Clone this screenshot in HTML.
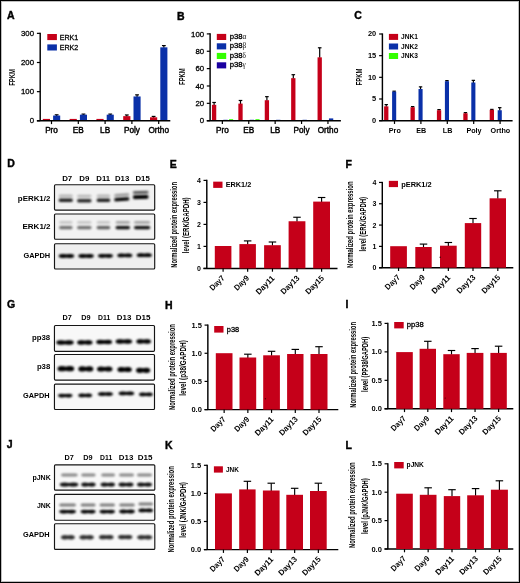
<!DOCTYPE html>
<html><head><meta charset="utf-8"><style>
html,body{margin:0;padding:0;background:#fff;}
#fig{position:relative;will-change:transform;width:520px;height:583px;overflow:hidden;background:#fff;}
svg{position:absolute;left:0;top:0;}
text{font-family:"Liberation Sans", sans-serif;}
</style></head><body><div id="fig">
<svg width="520" height="583" viewBox="0 0 520 583" font-family='"Liberation Sans", sans-serif'>
<defs><filter id="b3" x="-20%" y="-100%" width="140%" height="300%"><feGaussianBlur stdDeviation="0.3"/></filter><filter id="b4" x="-20%" y="-100%" width="140%" height="300%"><feGaussianBlur stdDeviation="0.4"/></filter><filter id="b5" x="-20%" y="-100%" width="140%" height="300%"><feGaussianBlur stdDeviation="0.5"/></filter><filter id="b6" x="-20%" y="-100%" width="140%" height="300%"><feGaussianBlur stdDeviation="0.6"/></filter><filter id="b7" x="-20%" y="-100%" width="140%" height="300%"><feGaussianBlur stdDeviation="0.7"/></filter><filter id="b8" x="-20%" y="-100%" width="140%" height="300%"><feGaussianBlur stdDeviation="0.8"/></filter><filter id="b9" x="-20%" y="-100%" width="140%" height="300%"><feGaussianBlur stdDeviation="0.9"/></filter><filter id="b10" x="-20%" y="-100%" width="140%" height="300%"><feGaussianBlur stdDeviation="1.0"/></filter><filter id="b12" x="-20%" y="-100%" width="140%" height="300%"><feGaussianBlur stdDeviation="1.2"/></filter></defs>
<rect x="0.5" y="0.5" width="519" height="582" fill="none" stroke="#000" stroke-width="1"/>
<rect x="1.5" y="1.5" width="517" height="580" fill="none" stroke="#000" stroke-width="1" opacity="0.25"/>
<text x="7.10" y="19.12" font-size="10.5" font-weight="bold" stroke="#000" stroke-width="0.4">A</text>
<text x="177.10" y="20.22" font-size="10.5" font-weight="bold" stroke="#000" stroke-width="0.4">B</text>
<text x="354.30" y="19.42" font-size="10.5" font-weight="bold" stroke="#000" stroke-width="0.4">C</text>
<text x="7.30" y="166.92" font-size="10.5" font-weight="bold" stroke="#000" stroke-width="0.4">D</text>
<text x="169.70" y="167.52" font-size="10.5" font-weight="bold" stroke="#000" stroke-width="0.4">E</text>
<text x="345.50" y="167.52" font-size="10.5" font-weight="bold" stroke="#000" stroke-width="0.4">F</text>
<text x="7.00" y="307.92" font-size="10.5" font-weight="bold" stroke="#000" stroke-width="0.4">G</text>
<text x="165.10" y="308.72" font-size="10.5" font-weight="bold" stroke="#000" stroke-width="0.4">H</text>
<text x="345.50" y="308.32" font-size="10.5" font-weight="bold" stroke="#000" stroke-width="0.4">I</text>
<text x="6.80" y="448.12" font-size="10.5" font-weight="bold" stroke="#000" stroke-width="0.4">J</text>
<text x="165.10" y="449.02" font-size="10.5" font-weight="bold" stroke="#000" stroke-width="0.4">K</text>
<text x="345.50" y="449.02" font-size="10.5" font-weight="bold" stroke="#000" stroke-width="0.4">L</text>
<rect x="42.80" y="118.91" width="7.20" height="1.89" fill="#c50019"/>
<line x1="56.65" y1="116.05" x2="56.65" y2="114.82" stroke="#000" stroke-width="1.2"/>
<line x1="54.75" y1="114.82" x2="58.55" y2="114.82" stroke="#000" stroke-width="1.2"/>
<rect x="53.10" y="115.55" width="7.10" height="5.25" fill="#0a30a8"/>
<rect x="69.60" y="118.91" width="7.20" height="1.89" fill="#c50019"/>
<line x1="83.45" y1="115.18" x2="83.45" y2="114.10" stroke="#000" stroke-width="1.2"/>
<line x1="81.55" y1="114.10" x2="85.35" y2="114.10" stroke="#000" stroke-width="1.2"/>
<rect x="79.90" y="114.68" width="7.10" height="6.12" fill="#0a30a8"/>
<rect x="96.40" y="118.91" width="7.20" height="1.89" fill="#c50019"/>
<line x1="110.25" y1="115.18" x2="110.25" y2="114.10" stroke="#000" stroke-width="1.2"/>
<line x1="108.35" y1="114.10" x2="112.15" y2="114.10" stroke="#000" stroke-width="1.2"/>
<rect x="106.70" y="114.68" width="7.10" height="6.12" fill="#0a30a8"/>
<line x1="126.80" y1="116.64" x2="126.80" y2="114.97" stroke="#000" stroke-width="1.2"/>
<line x1="124.90" y1="114.97" x2="128.70" y2="114.97" stroke="#000" stroke-width="1.2"/>
<rect x="123.20" y="116.14" width="7.20" height="4.66" fill="#c50019"/>
<line x1="137.05" y1="96.96" x2="137.05" y2="94.86" stroke="#000" stroke-width="1.2"/>
<line x1="135.15" y1="94.86" x2="138.95" y2="94.86" stroke="#000" stroke-width="1.2"/>
<rect x="133.50" y="96.46" width="7.10" height="24.34" fill="#0a30a8"/>
<line x1="153.60" y1="117.80" x2="153.60" y2="116.43" stroke="#000" stroke-width="1.2"/>
<line x1="151.70" y1="116.43" x2="155.50" y2="116.43" stroke="#000" stroke-width="1.2"/>
<rect x="150.00" y="117.30" width="7.20" height="3.50" fill="#c50019"/>
<line x1="163.85" y1="47.84" x2="163.85" y2="45.59" stroke="#000" stroke-width="1.2"/>
<line x1="161.95" y1="45.59" x2="165.75" y2="45.59" stroke="#000" stroke-width="1.2"/>
<rect x="160.30" y="47.34" width="7.10" height="73.46" fill="#0a30a8"/>
<line x1="40.20" y1="32.75" x2="40.20" y2="120.80" stroke="#000" stroke-width="1.45"/>
<line x1="36.90" y1="120.80" x2="170.30" y2="120.80" stroke="#000" stroke-width="1.45"/>
<line x1="36.90" y1="120.80" x2="40.20" y2="120.80" stroke="#000" stroke-width="1.2"/>
<text x="34.00" y="123.40" font-size="7.8" text-anchor="end" stroke="#000" stroke-width="0.28">0</text>
<line x1="36.90" y1="91.65" x2="40.20" y2="91.65" stroke="#000" stroke-width="1.2"/>
<text x="34.00" y="94.25" font-size="7.8" text-anchor="end" stroke="#000" stroke-width="0.28">100</text>
<line x1="36.90" y1="62.50" x2="40.20" y2="62.50" stroke="#000" stroke-width="1.2"/>
<text x="34.00" y="65.10" font-size="7.8" text-anchor="end" stroke="#000" stroke-width="0.28">200</text>
<line x1="36.90" y1="33.35" x2="40.20" y2="33.35" stroke="#000" stroke-width="1.2"/>
<text x="34.00" y="35.95" font-size="7.8" text-anchor="end" stroke="#000" stroke-width="0.28">300</text>
<line x1="51.50" y1="120.80" x2="51.50" y2="124.10" stroke="#000" stroke-width="1.2"/>
<text x="51.50" y="132.60" font-size="8.2" text-anchor="middle" stroke="#000" stroke-width="0.42">Pro</text>
<line x1="78.30" y1="120.80" x2="78.30" y2="124.10" stroke="#000" stroke-width="1.2"/>
<text x="78.30" y="132.60" font-size="8.2" text-anchor="middle" stroke="#000" stroke-width="0.42">EB</text>
<line x1="105.10" y1="120.80" x2="105.10" y2="124.10" stroke="#000" stroke-width="1.2"/>
<text x="105.10" y="132.60" font-size="8.2" text-anchor="middle" stroke="#000" stroke-width="0.42">LB</text>
<line x1="131.90" y1="120.80" x2="131.90" y2="124.10" stroke="#000" stroke-width="1.2"/>
<text x="131.90" y="132.60" font-size="8.2" text-anchor="middle" stroke="#000" stroke-width="0.42">Poly</text>
<line x1="158.70" y1="120.80" x2="158.70" y2="124.10" stroke="#000" stroke-width="1.2"/>
<text x="158.70" y="132.60" font-size="8.2" text-anchor="middle" stroke="#000" stroke-width="0.42">Ortho</text>
<text transform="translate(14.60,77.40) rotate(-90)" font-size="9.4" font-weight="bold" text-anchor="middle" textLength="16.80" lengthAdjust="spacingAndGlyphs">FPKM</text>
<rect x="47.30" y="34.00" width="9.60" height="6.10" fill="#c50019"/>
<text x="59.70" y="39.85" font-size="7.1" stroke="#000" stroke-width="0.28">ERK1</text>
<rect x="47.30" y="44.40" width="9.60" height="6.10" fill="#0a30a8"/>
<text x="59.70" y="49.60" font-size="7.1" stroke="#000" stroke-width="0.28">ERK2</text>
<line x1="214.10" y1="105.32" x2="214.10" y2="102.47" stroke="#000" stroke-width="1.2"/>
<line x1="212.30" y1="102.47" x2="215.90" y2="102.47" stroke="#000" stroke-width="1.2"/>
<rect x="211.95" y="104.82" width="4.30" height="15.88" fill="#c50019"/>
<line x1="240.50" y1="104.10" x2="240.50" y2="100.48" stroke="#000" stroke-width="1.2"/>
<line x1="238.70" y1="100.48" x2="242.30" y2="100.48" stroke="#000" stroke-width="1.2"/>
<rect x="238.35" y="103.60" width="4.30" height="17.10" fill="#c50019"/>
<line x1="266.90" y1="100.72" x2="266.90" y2="96.66" stroke="#000" stroke-width="1.2"/>
<line x1="265.10" y1="96.66" x2="268.70" y2="96.66" stroke="#000" stroke-width="1.2"/>
<rect x="264.75" y="100.22" width="4.30" height="20.48" fill="#c50019"/>
<line x1="293.30" y1="78.67" x2="293.30" y2="74.70" stroke="#000" stroke-width="1.2"/>
<line x1="291.50" y1="74.70" x2="295.10" y2="74.70" stroke="#000" stroke-width="1.2"/>
<rect x="291.15" y="78.17" width="4.30" height="42.53" fill="#c50019"/>
<line x1="319.70" y1="57.84" x2="319.70" y2="47.79" stroke="#000" stroke-width="1.2"/>
<line x1="317.90" y1="47.79" x2="321.50" y2="47.79" stroke="#000" stroke-width="1.2"/>
<rect x="317.55" y="57.34" width="4.30" height="63.36" fill="#c50019"/>
<rect x="223.35" y="119.79" width="4.30" height="0.91" fill="#0a30a8"/>
<rect x="229.05" y="119.20" width="4.10" height="1.50" fill="#33ff00"/>
<rect x="249.75" y="119.79" width="4.30" height="0.91" fill="#0a30a8"/>
<rect x="255.45" y="119.20" width="4.10" height="1.50" fill="#33ff00"/>
<rect x="276.15" y="119.79" width="4.30" height="0.91" fill="#0a30a8"/>
<rect x="302.55" y="119.79" width="4.30" height="0.91" fill="#0a30a8"/>
<rect x="328.95" y="118.40" width="4.30" height="2.30" fill="#0a30a8"/>
<line x1="210.10" y1="33.30" x2="210.10" y2="120.70" stroke="#000" stroke-width="1.45"/>
<line x1="206.80" y1="120.70" x2="340.90" y2="120.70" stroke="#000" stroke-width="1.45"/>
<line x1="206.80" y1="120.70" x2="210.10" y2="120.70" stroke="#000" stroke-width="1.2"/>
<text x="204.10" y="123.30" font-size="7.8" text-anchor="end" stroke="#000" stroke-width="0.28">0</text>
<line x1="206.80" y1="103.34" x2="210.10" y2="103.34" stroke="#000" stroke-width="1.2"/>
<text x="204.10" y="105.94" font-size="7.8" text-anchor="end" stroke="#000" stroke-width="0.28">20</text>
<line x1="206.80" y1="85.98" x2="210.10" y2="85.98" stroke="#000" stroke-width="1.2"/>
<text x="204.10" y="88.58" font-size="7.8" text-anchor="end" stroke="#000" stroke-width="0.28">40</text>
<line x1="206.80" y1="68.62" x2="210.10" y2="68.62" stroke="#000" stroke-width="1.2"/>
<text x="204.10" y="71.22" font-size="7.8" text-anchor="end" stroke="#000" stroke-width="0.28">60</text>
<line x1="206.80" y1="51.26" x2="210.10" y2="51.26" stroke="#000" stroke-width="1.2"/>
<text x="204.10" y="53.86" font-size="7.8" text-anchor="end" stroke="#000" stroke-width="0.28">80</text>
<line x1="206.80" y1="33.90" x2="210.10" y2="33.90" stroke="#000" stroke-width="1.2"/>
<text x="204.10" y="36.50" font-size="7.8" text-anchor="end" stroke="#000" stroke-width="0.28">100</text>
<line x1="222.35" y1="120.70" x2="222.35" y2="124.00" stroke="#000" stroke-width="1.2"/>
<text x="222.35" y="132.60" font-size="8.2" text-anchor="middle" stroke="#000" stroke-width="0.42">Pro</text>
<line x1="248.75" y1="120.70" x2="248.75" y2="124.00" stroke="#000" stroke-width="1.2"/>
<text x="248.75" y="132.60" font-size="8.2" text-anchor="middle" stroke="#000" stroke-width="0.42">EB</text>
<line x1="275.15" y1="120.70" x2="275.15" y2="124.00" stroke="#000" stroke-width="1.2"/>
<text x="275.15" y="132.60" font-size="8.2" text-anchor="middle" stroke="#000" stroke-width="0.42">LB</text>
<line x1="301.55" y1="120.70" x2="301.55" y2="124.00" stroke="#000" stroke-width="1.2"/>
<text x="301.55" y="132.60" font-size="8.2" text-anchor="middle" stroke="#000" stroke-width="0.42">Poly</text>
<line x1="327.95" y1="120.70" x2="327.95" y2="124.00" stroke="#000" stroke-width="1.2"/>
<text x="327.95" y="132.60" font-size="8.2" text-anchor="middle" stroke="#000" stroke-width="0.42">Ortho</text>
<text transform="translate(185.40,76.60) rotate(-90)" font-size="9.4" font-weight="bold" text-anchor="middle" textLength="16.80" lengthAdjust="spacingAndGlyphs">FPKM</text>
<rect x="216.80" y="33.90" width="9.40" height="6.10" fill="#c50019"/>
<text x="229.7" y="38.50" font-size="6.6" stroke="#000" stroke-width="0.28" textLength="12.9" lengthAdjust="spacingAndGlyphs">p38</text>
<text x="242.5" y="38.50" font-size="7.3" style="font-family:'Liberation Serif',serif" fill="#111">&#945;</text>
<rect x="216.80" y="43.30" width="9.40" height="6.10" fill="#0a30a8"/>
<text x="229.7" y="47.90" font-size="6.6" stroke="#000" stroke-width="0.28" textLength="12.9" lengthAdjust="spacingAndGlyphs">p38</text>
<text x="242.5" y="47.90" font-size="7.3" style="font-family:'Liberation Serif',serif" fill="#111">&#946;</text>
<rect x="216.80" y="52.90" width="9.40" height="6.10" fill="#33ff00"/>
<text x="229.7" y="57.50" font-size="6.6" stroke="#000" stroke-width="0.28" textLength="12.9" lengthAdjust="spacingAndGlyphs">p38</text>
<text x="242.5" y="57.50" font-size="7.3" style="font-family:'Liberation Serif',serif" fill="#111">&#948;</text>
<rect x="216.80" y="62.30" width="9.40" height="6.10" fill="#1a00a0"/>
<text x="229.7" y="66.90" font-size="6.6" stroke="#000" stroke-width="0.28" textLength="12.9" lengthAdjust="spacingAndGlyphs">p38</text>
<text x="242.5" y="66.90" font-size="7.3" style="font-family:'Liberation Serif',serif" fill="#111">&#947;</text>
<line x1="386.25" y1="106.85" x2="386.25" y2="104.62" stroke="#000" stroke-width="1.2"/>
<line x1="384.55" y1="104.62" x2="387.95" y2="104.62" stroke="#000" stroke-width="1.2"/>
<rect x="384.10" y="106.35" width="4.30" height="14.30" fill="#c50019"/>
<line x1="394.15" y1="92.12" x2="394.15" y2="91.19" stroke="#000" stroke-width="1.2"/>
<line x1="392.45" y1="91.19" x2="395.85" y2="91.19" stroke="#000" stroke-width="1.2"/>
<rect x="392.10" y="91.62" width="4.10" height="29.03" fill="#0a30a8"/>
<line x1="412.65" y1="107.72" x2="412.65" y2="106.57" stroke="#000" stroke-width="1.2"/>
<line x1="410.95" y1="106.57" x2="414.35" y2="106.57" stroke="#000" stroke-width="1.2"/>
<rect x="410.50" y="107.22" width="4.30" height="13.43" fill="#c50019"/>
<line x1="420.55" y1="89.52" x2="420.55" y2="86.86" stroke="#000" stroke-width="1.2"/>
<line x1="418.85" y1="86.86" x2="422.25" y2="86.86" stroke="#000" stroke-width="1.2"/>
<rect x="418.50" y="89.02" width="4.10" height="31.63" fill="#0a30a8"/>
<line x1="439.05" y1="110.75" x2="439.05" y2="109.60" stroke="#000" stroke-width="1.2"/>
<line x1="437.35" y1="109.60" x2="440.75" y2="109.60" stroke="#000" stroke-width="1.2"/>
<rect x="436.90" y="110.25" width="4.30" height="10.40" fill="#c50019"/>
<line x1="446.95" y1="81.72" x2="446.95" y2="80.57" stroke="#000" stroke-width="1.2"/>
<line x1="445.25" y1="80.57" x2="448.65" y2="80.57" stroke="#000" stroke-width="1.2"/>
<rect x="444.90" y="81.22" width="4.10" height="39.43" fill="#0a30a8"/>
<line x1="465.45" y1="113.78" x2="465.45" y2="112.63" stroke="#000" stroke-width="1.2"/>
<line x1="463.75" y1="112.63" x2="467.15" y2="112.63" stroke="#000" stroke-width="1.2"/>
<rect x="463.30" y="113.28" width="4.30" height="7.37" fill="#c50019"/>
<line x1="473.35" y1="83.02" x2="473.35" y2="80.36" stroke="#000" stroke-width="1.2"/>
<line x1="471.65" y1="80.36" x2="475.05" y2="80.36" stroke="#000" stroke-width="1.2"/>
<rect x="471.30" y="82.52" width="4.10" height="38.13" fill="#0a30a8"/>
<line x1="491.85" y1="110.32" x2="491.85" y2="109.39" stroke="#000" stroke-width="1.2"/>
<line x1="490.15" y1="109.39" x2="493.55" y2="109.39" stroke="#000" stroke-width="1.2"/>
<rect x="489.70" y="109.82" width="4.30" height="10.83" fill="#c50019"/>
<line x1="499.75" y1="110.75" x2="499.75" y2="107.65" stroke="#000" stroke-width="1.2"/>
<line x1="498.05" y1="107.65" x2="501.45" y2="107.65" stroke="#000" stroke-width="1.2"/>
<rect x="497.70" y="110.25" width="4.10" height="10.40" fill="#0a30a8"/>
<line x1="382.40" y1="33.40" x2="382.40" y2="120.65" stroke="#000" stroke-width="1.45"/>
<line x1="379.10" y1="120.65" x2="512.60" y2="120.65" stroke="#000" stroke-width="1.45"/>
<line x1="379.10" y1="120.65" x2="382.40" y2="120.65" stroke="#000" stroke-width="1.2"/>
<text x="376.20" y="123.05" font-size="7.6" font-weight="bold" text-anchor="end" textLength="4.14" lengthAdjust="spacingAndGlyphs">0</text>
<line x1="379.10" y1="98.99" x2="382.40" y2="98.99" stroke="#000" stroke-width="1.2"/>
<text x="376.20" y="101.39" font-size="7.6" font-weight="bold" text-anchor="end" textLength="4.14" lengthAdjust="spacingAndGlyphs">5</text>
<line x1="379.10" y1="77.33" x2="382.40" y2="77.33" stroke="#000" stroke-width="1.2"/>
<text x="376.20" y="79.73" font-size="7.6" font-weight="bold" text-anchor="end" textLength="8.28" lengthAdjust="spacingAndGlyphs">10</text>
<line x1="379.10" y1="55.66" x2="382.40" y2="55.66" stroke="#000" stroke-width="1.2"/>
<text x="376.20" y="58.06" font-size="7.6" font-weight="bold" text-anchor="end" textLength="8.28" lengthAdjust="spacingAndGlyphs">15</text>
<line x1="379.10" y1="34.00" x2="382.40" y2="34.00" stroke="#000" stroke-width="1.2"/>
<text x="376.20" y="36.40" font-size="7.6" font-weight="bold" text-anchor="end" textLength="8.28" lengthAdjust="spacingAndGlyphs">20</text>
<line x1="394.50" y1="120.65" x2="394.50" y2="123.95" stroke="#000" stroke-width="1.2"/>
<text x="394.80" y="132.70" font-size="8.0" font-weight="bold" text-anchor="middle" textLength="12.00" lengthAdjust="spacingAndGlyphs">Pro</text>
<line x1="420.90" y1="120.65" x2="420.90" y2="123.95" stroke="#000" stroke-width="1.2"/>
<text x="421.20" y="132.70" font-size="8.0" font-weight="bold" text-anchor="middle" textLength="10.00" lengthAdjust="spacingAndGlyphs">EB</text>
<line x1="447.30" y1="120.65" x2="447.30" y2="123.95" stroke="#000" stroke-width="1.2"/>
<text x="447.60" y="132.70" font-size="8.0" font-weight="bold" text-anchor="middle" textLength="9.60" lengthAdjust="spacingAndGlyphs">LB</text>
<line x1="473.70" y1="120.65" x2="473.70" y2="123.95" stroke="#000" stroke-width="1.2"/>
<text x="474.00" y="132.70" font-size="8.0" font-weight="bold" text-anchor="middle" textLength="15.21" lengthAdjust="spacingAndGlyphs">Poly</text>
<line x1="500.10" y1="120.65" x2="500.10" y2="123.95" stroke="#000" stroke-width="1.2"/>
<text x="500.40" y="132.70" font-size="8.0" font-weight="bold" text-anchor="middle" textLength="19.61" lengthAdjust="spacingAndGlyphs">Ortho</text>
<text transform="translate(361.50,77.00) rotate(-90)" font-size="9.4" font-weight="bold" text-anchor="middle" textLength="16.80" lengthAdjust="spacingAndGlyphs">FPKM</text>
<rect x="388.90" y="33.90" width="9.20" height="6.00" fill="#c50019"/>
<text x="401.00" y="39.20" font-size="7.3" font-weight="bold" textLength="16.90" lengthAdjust="spacingAndGlyphs">JNK1</text>
<rect x="388.90" y="43.50" width="9.20" height="6.00" fill="#0a30a8"/>
<text x="401.00" y="48.70" font-size="7.3" font-weight="bold" textLength="16.90" lengthAdjust="spacingAndGlyphs">JNK2</text>
<rect x="388.90" y="53.00" width="9.20" height="6.00" fill="#33ff00"/>
<text x="401.00" y="58.30" font-size="7.3" font-weight="bold" textLength="16.90" lengthAdjust="spacingAndGlyphs">JNK3</text>
<line x1="206.80" y1="179.80" x2="206.80" y2="268.40" stroke="#000" stroke-width="1.45"/>
<line x1="203.50" y1="268.40" x2="337.50" y2="268.40" stroke="#000" stroke-width="1.45"/>
<line x1="203.50" y1="268.40" x2="206.80" y2="268.40" stroke="#000" stroke-width="1.2"/>
<text x="200.80" y="271.00" font-size="7.0" font-weight="bold" text-anchor="end">0</text>
<line x1="203.50" y1="246.40" x2="206.80" y2="246.40" stroke="#000" stroke-width="1.2"/>
<text x="200.80" y="249.00" font-size="7.0" font-weight="bold" text-anchor="end">1</text>
<line x1="203.50" y1="224.40" x2="206.80" y2="224.40" stroke="#000" stroke-width="1.2"/>
<text x="200.80" y="227.00" font-size="7.0" font-weight="bold" text-anchor="end">2</text>
<line x1="203.50" y1="202.40" x2="206.80" y2="202.40" stroke="#000" stroke-width="1.2"/>
<text x="200.80" y="205.00" font-size="7.0" font-weight="bold" text-anchor="end">3</text>
<line x1="203.50" y1="180.40" x2="206.80" y2="180.40" stroke="#000" stroke-width="1.2"/>
<text x="200.80" y="183.00" font-size="7.0" font-weight="bold" text-anchor="end">4</text>
<rect x="214.80" y="246.00" width="16.60" height="22.40" fill="#c50019"/>
<line x1="223.10" y1="268.40" x2="223.10" y2="271.70" stroke="#000" stroke-width="1.2"/>
<text transform="translate(225.10,278.60) rotate(-45)" font-size="8.0" font-weight="bold" text-anchor="end" textLength="17.59" lengthAdjust="spacingAndGlyphs">Day7</text>
<line x1="247.65" y1="244.60" x2="247.65" y2="240.90" stroke="#000" stroke-width="1.15"/>
<line x1="243.90" y1="240.90" x2="251.40" y2="240.90" stroke="#000" stroke-width="1.15"/>
<rect x="239.40" y="244.10" width="16.50" height="24.30" fill="#c50019"/>
<line x1="247.65" y1="268.40" x2="247.65" y2="271.70" stroke="#000" stroke-width="1.2"/>
<text transform="translate(249.65,278.60) rotate(-45)" font-size="8.0" font-weight="bold" text-anchor="end" textLength="17.59" lengthAdjust="spacingAndGlyphs">Day9</text>
<line x1="272.45" y1="245.70" x2="272.45" y2="242.00" stroke="#000" stroke-width="1.15"/>
<line x1="268.70" y1="242.00" x2="276.20" y2="242.00" stroke="#000" stroke-width="1.15"/>
<rect x="264.10" y="245.20" width="16.70" height="23.20" fill="#c50019"/>
<line x1="272.45" y1="268.40" x2="272.45" y2="271.70" stroke="#000" stroke-width="1.2"/>
<text transform="translate(275.05,278.80) rotate(-45)" font-size="8.0" font-weight="bold" text-anchor="end" textLength="22.86" lengthAdjust="spacingAndGlyphs">Day11</text>
<line x1="297.00" y1="221.75" x2="297.00" y2="217.25" stroke="#000" stroke-width="1.15"/>
<line x1="293.25" y1="217.25" x2="300.75" y2="217.25" stroke="#000" stroke-width="1.15"/>
<rect x="288.60" y="221.25" width="16.80" height="47.15" fill="#c50019"/>
<line x1="297.00" y1="268.40" x2="297.00" y2="271.70" stroke="#000" stroke-width="1.2"/>
<text transform="translate(300.00,278.60) rotate(-45)" font-size="8.0" font-weight="bold" text-anchor="end" textLength="22.86" lengthAdjust="spacingAndGlyphs">Day13</text>
<line x1="321.60" y1="202.10" x2="321.60" y2="197.50" stroke="#000" stroke-width="1.15"/>
<line x1="317.85" y1="197.50" x2="325.35" y2="197.50" stroke="#000" stroke-width="1.15"/>
<rect x="313.20" y="201.60" width="16.80" height="66.80" fill="#c50019"/>
<line x1="321.60" y1="268.40" x2="321.60" y2="271.70" stroke="#000" stroke-width="1.2"/>
<text transform="translate(324.60,278.60) rotate(-45)" font-size="8.0" font-weight="bold" text-anchor="end" textLength="22.86" lengthAdjust="spacingAndGlyphs">Day15</text>
<rect x="213.20" y="181.65" width="9.30" height="6.25" fill="#c50019"/>
<text x="225.70" y="187.40" font-size="7.1" font-weight="bold" textLength="25.60" lengthAdjust="spacingAndGlyphs">ERK1/2</text>
<text transform="translate(177.20,224.90) rotate(-90)" font-size="8.8" font-weight="bold" text-anchor="middle" textLength="85.80" lengthAdjust="spacingAndGlyphs">Normalized protein expression</text>
<text transform="translate(189.00,225.30) rotate(-90)" font-size="8.8" font-weight="bold" text-anchor="middle" textLength="55.80" lengthAdjust="spacingAndGlyphs">level (ERK/GAPDH)</text>
<line x1="382.30" y1="181.85" x2="382.30" y2="267.70" stroke="#000" stroke-width="1.45"/>
<line x1="379.00" y1="267.70" x2="513.30" y2="267.70" stroke="#000" stroke-width="1.45"/>
<line x1="379.00" y1="267.70" x2="382.30" y2="267.70" stroke="#000" stroke-width="1.2"/>
<text x="376.30" y="270.30" font-size="7.0" font-weight="bold" text-anchor="end">0</text>
<line x1="379.00" y1="246.39" x2="382.30" y2="246.39" stroke="#000" stroke-width="1.2"/>
<text x="376.30" y="248.99" font-size="7.0" font-weight="bold" text-anchor="end">1</text>
<line x1="379.00" y1="225.07" x2="382.30" y2="225.07" stroke="#000" stroke-width="1.2"/>
<text x="376.30" y="227.67" font-size="7.0" font-weight="bold" text-anchor="end">2</text>
<line x1="379.00" y1="203.76" x2="382.30" y2="203.76" stroke="#000" stroke-width="1.2"/>
<text x="376.30" y="206.36" font-size="7.0" font-weight="bold" text-anchor="end">3</text>
<line x1="379.00" y1="182.45" x2="382.30" y2="182.45" stroke="#000" stroke-width="1.2"/>
<text x="376.30" y="185.05" font-size="7.0" font-weight="bold" text-anchor="end">4</text>
<rect x="390.20" y="246.20" width="16.70" height="21.50" fill="#c50019"/>
<line x1="398.55" y1="267.70" x2="398.55" y2="271.00" stroke="#000" stroke-width="1.2"/>
<text transform="translate(400.55,277.90) rotate(-45)" font-size="8.0" font-weight="bold" text-anchor="end" textLength="17.59" lengthAdjust="spacingAndGlyphs">Day7</text>
<line x1="423.50" y1="247.50" x2="423.50" y2="244.10" stroke="#000" stroke-width="1.15"/>
<line x1="419.75" y1="244.10" x2="427.25" y2="244.10" stroke="#000" stroke-width="1.15"/>
<rect x="415.30" y="247.00" width="16.40" height="20.70" fill="#c50019"/>
<line x1="423.50" y1="267.70" x2="423.50" y2="271.00" stroke="#000" stroke-width="1.2"/>
<text transform="translate(425.50,277.90) rotate(-45)" font-size="8.0" font-weight="bold" text-anchor="end" textLength="17.59" lengthAdjust="spacingAndGlyphs">Day9</text>
<line x1="448.35" y1="246.20" x2="448.35" y2="242.50" stroke="#000" stroke-width="1.15"/>
<line x1="444.60" y1="242.50" x2="452.10" y2="242.50" stroke="#000" stroke-width="1.15"/>
<rect x="440.00" y="245.70" width="16.70" height="22.00" fill="#c50019"/>
<line x1="448.35" y1="267.70" x2="448.35" y2="271.00" stroke="#000" stroke-width="1.2"/>
<text transform="translate(450.95,278.10) rotate(-45)" font-size="8.0" font-weight="bold" text-anchor="end" textLength="22.86" lengthAdjust="spacingAndGlyphs">Day11</text>
<line x1="473.00" y1="223.60" x2="473.00" y2="218.50" stroke="#000" stroke-width="1.15"/>
<line x1="469.25" y1="218.50" x2="476.75" y2="218.50" stroke="#000" stroke-width="1.15"/>
<rect x="464.80" y="223.10" width="16.40" height="44.60" fill="#c50019"/>
<line x1="473.00" y1="267.70" x2="473.00" y2="271.00" stroke="#000" stroke-width="1.2"/>
<text transform="translate(476.00,277.90) rotate(-45)" font-size="8.0" font-weight="bold" text-anchor="end" textLength="22.86" lengthAdjust="spacingAndGlyphs">Day13</text>
<line x1="497.80" y1="198.80" x2="497.80" y2="190.80" stroke="#000" stroke-width="1.15"/>
<line x1="494.05" y1="190.80" x2="501.55" y2="190.80" stroke="#000" stroke-width="1.15"/>
<rect x="489.60" y="198.30" width="16.40" height="69.40" fill="#c50019"/>
<line x1="497.80" y1="267.70" x2="497.80" y2="271.00" stroke="#000" stroke-width="1.2"/>
<text transform="translate(500.80,277.90) rotate(-45)" font-size="8.0" font-weight="bold" text-anchor="end" textLength="22.86" lengthAdjust="spacingAndGlyphs">Day15</text>
<rect x="388.85" y="180.85" width="9.15" height="6.25" fill="#c50019"/>
<text x="401.20" y="186.60" font-size="7.0" font-weight="bold" textLength="30.50" lengthAdjust="spacingAndGlyphs">pERK1/2</text>
<text transform="translate(353.40,224.70) rotate(-90)" font-size="8.8" font-weight="bold" text-anchor="middle" textLength="86.40" lengthAdjust="spacingAndGlyphs">Normalized protein expression</text>
<text transform="translate(365.70,224.25) rotate(-90)" font-size="8.8" font-weight="bold" text-anchor="middle" textLength="54.50" lengthAdjust="spacingAndGlyphs">level (ERK/GAPDH)</text>
<line x1="207.85" y1="324.50" x2="207.85" y2="409.60" stroke="#000" stroke-width="1.45"/>
<line x1="204.55" y1="409.60" x2="338.30" y2="409.60" stroke="#000" stroke-width="1.45"/>
<line x1="204.55" y1="409.60" x2="207.85" y2="409.60" stroke="#000" stroke-width="1.2"/>
<text x="201.85" y="412.20" font-size="7.5" font-weight="bold" text-anchor="end">0.0</text>
<line x1="204.55" y1="381.43" x2="207.85" y2="381.43" stroke="#000" stroke-width="1.2"/>
<text x="201.85" y="384.03" font-size="7.5" font-weight="bold" text-anchor="end">0.5</text>
<line x1="204.55" y1="353.27" x2="207.85" y2="353.27" stroke="#000" stroke-width="1.2"/>
<text x="201.85" y="355.87" font-size="7.5" font-weight="bold" text-anchor="end">1.0</text>
<line x1="204.55" y1="325.10" x2="207.85" y2="325.10" stroke="#000" stroke-width="1.2"/>
<text x="201.85" y="327.70" font-size="7.5" font-weight="bold" text-anchor="end">1.5</text>
<rect x="215.80" y="353.20" width="16.70" height="56.40" fill="#c50019"/>
<line x1="224.15" y1="409.60" x2="224.15" y2="412.90" stroke="#000" stroke-width="1.2"/>
<text transform="translate(226.15,419.80) rotate(-45)" font-size="8.0" font-weight="bold" text-anchor="end" textLength="17.59" lengthAdjust="spacingAndGlyphs">Day7</text>
<line x1="247.85" y1="358.00" x2="247.85" y2="354.20" stroke="#000" stroke-width="1.15"/>
<line x1="244.10" y1="354.20" x2="251.60" y2="354.20" stroke="#000" stroke-width="1.15"/>
<rect x="239.50" y="357.50" width="16.70" height="52.10" fill="#c50019"/>
<line x1="247.85" y1="409.60" x2="247.85" y2="412.90" stroke="#000" stroke-width="1.2"/>
<text transform="translate(249.85,419.80) rotate(-45)" font-size="8.0" font-weight="bold" text-anchor="end" textLength="17.59" lengthAdjust="spacingAndGlyphs">Day9</text>
<line x1="271.55" y1="355.80" x2="271.55" y2="351.30" stroke="#000" stroke-width="1.15"/>
<line x1="267.80" y1="351.30" x2="275.30" y2="351.30" stroke="#000" stroke-width="1.15"/>
<rect x="263.20" y="355.30" width="16.70" height="54.30" fill="#c50019"/>
<line x1="271.55" y1="409.60" x2="271.55" y2="412.90" stroke="#000" stroke-width="1.2"/>
<text transform="translate(274.15,420.00) rotate(-45)" font-size="8.0" font-weight="bold" text-anchor="end" textLength="22.86" lengthAdjust="spacingAndGlyphs">Day11</text>
<line x1="295.30" y1="354.50" x2="295.30" y2="349.40" stroke="#000" stroke-width="1.15"/>
<line x1="291.55" y1="349.40" x2="299.05" y2="349.40" stroke="#000" stroke-width="1.15"/>
<rect x="287.10" y="354.00" width="16.40" height="55.60" fill="#c50019"/>
<line x1="295.30" y1="409.60" x2="295.30" y2="412.90" stroke="#000" stroke-width="1.2"/>
<text transform="translate(298.30,419.80) rotate(-45)" font-size="8.0" font-weight="bold" text-anchor="end" textLength="22.86" lengthAdjust="spacingAndGlyphs">Day13</text>
<line x1="319.00" y1="354.50" x2="319.00" y2="346.70" stroke="#000" stroke-width="1.15"/>
<line x1="315.25" y1="346.70" x2="322.75" y2="346.70" stroke="#000" stroke-width="1.15"/>
<rect x="310.50" y="354.00" width="17.00" height="55.60" fill="#c50019"/>
<line x1="319.00" y1="409.60" x2="319.00" y2="412.90" stroke="#000" stroke-width="1.2"/>
<text transform="translate(322.00,419.80) rotate(-45)" font-size="8.0" font-weight="bold" text-anchor="end" textLength="22.86" lengthAdjust="spacingAndGlyphs">Day15</text>
<rect x="214.20" y="326.00" width="9.30" height="6.60" fill="#c50019"/>
<text x="226.80" y="331.60" font-size="6.8" textLength="12.40" lengthAdjust="spacingAndGlyphs" stroke="#000" stroke-width="0.28">p38</text>
<text transform="translate(174.80,367.10) rotate(-90)" font-size="8.8" font-weight="bold" text-anchor="middle" textLength="85.80" lengthAdjust="spacingAndGlyphs">Normalized protein expression</text>
<text transform="translate(186.30,368.00) rotate(-90)" font-size="8.8" font-weight="bold" text-anchor="middle" textLength="55.60" lengthAdjust="spacingAndGlyphs">level (p38/GAPDH)</text>
<line x1="387.85" y1="322.80" x2="387.85" y2="408.80" stroke="#000" stroke-width="1.45"/>
<line x1="384.55" y1="408.80" x2="513.30" y2="408.80" stroke="#000" stroke-width="1.45"/>
<line x1="384.55" y1="408.80" x2="387.85" y2="408.80" stroke="#000" stroke-width="1.2"/>
<text x="381.85" y="411.40" font-size="7.5" font-weight="bold" text-anchor="end">0.0</text>
<line x1="384.55" y1="380.33" x2="387.85" y2="380.33" stroke="#000" stroke-width="1.2"/>
<text x="381.85" y="382.93" font-size="7.5" font-weight="bold" text-anchor="end">0.5</text>
<line x1="384.55" y1="351.87" x2="387.85" y2="351.87" stroke="#000" stroke-width="1.2"/>
<text x="381.85" y="354.47" font-size="7.5" font-weight="bold" text-anchor="end">1.0</text>
<line x1="384.55" y1="323.40" x2="387.85" y2="323.40" stroke="#000" stroke-width="1.2"/>
<text x="381.85" y="326.00" font-size="7.5" font-weight="bold" text-anchor="end">1.5</text>
<rect x="396.20" y="352.10" width="16.60" height="56.70" fill="#c50019"/>
<line x1="404.50" y1="408.80" x2="404.50" y2="412.10" stroke="#000" stroke-width="1.2"/>
<text transform="translate(406.50,419.00) rotate(-45)" font-size="8.0" font-weight="bold" text-anchor="end" textLength="17.59" lengthAdjust="spacingAndGlyphs">Day7</text>
<line x1="427.80" y1="349.30" x2="427.80" y2="341.30" stroke="#000" stroke-width="1.15"/>
<line x1="424.05" y1="341.30" x2="431.55" y2="341.30" stroke="#000" stroke-width="1.15"/>
<rect x="419.60" y="348.80" width="16.40" height="60.00" fill="#c50019"/>
<line x1="427.80" y1="408.80" x2="427.80" y2="412.10" stroke="#000" stroke-width="1.2"/>
<text transform="translate(429.80,419.00) rotate(-45)" font-size="8.0" font-weight="bold" text-anchor="end" textLength="17.59" lengthAdjust="spacingAndGlyphs">Day9</text>
<line x1="451.50" y1="354.70" x2="451.50" y2="350.50" stroke="#000" stroke-width="1.15"/>
<line x1="447.75" y1="350.50" x2="455.25" y2="350.50" stroke="#000" stroke-width="1.15"/>
<rect x="443.30" y="354.20" width="16.40" height="54.60" fill="#c50019"/>
<line x1="451.50" y1="408.80" x2="451.50" y2="412.10" stroke="#000" stroke-width="1.2"/>
<text transform="translate(454.10,419.20) rotate(-45)" font-size="8.0" font-weight="bold" text-anchor="end" textLength="22.86" lengthAdjust="spacingAndGlyphs">Day11</text>
<line x1="475.05" y1="353.40" x2="475.05" y2="348.60" stroke="#000" stroke-width="1.15"/>
<line x1="471.30" y1="348.60" x2="478.80" y2="348.60" stroke="#000" stroke-width="1.15"/>
<rect x="466.70" y="352.90" width="16.70" height="55.90" fill="#c50019"/>
<line x1="475.05" y1="408.80" x2="475.05" y2="412.10" stroke="#000" stroke-width="1.2"/>
<text transform="translate(478.05,419.00) rotate(-45)" font-size="8.0" font-weight="bold" text-anchor="end" textLength="22.86" lengthAdjust="spacingAndGlyphs">Day13</text>
<line x1="498.60" y1="353.40" x2="498.60" y2="346.20" stroke="#000" stroke-width="1.15"/>
<line x1="494.85" y1="346.20" x2="502.35" y2="346.20" stroke="#000" stroke-width="1.15"/>
<rect x="490.40" y="352.90" width="16.40" height="55.90" fill="#c50019"/>
<line x1="498.60" y1="408.80" x2="498.60" y2="412.10" stroke="#000" stroke-width="1.2"/>
<text transform="translate(501.60,419.00) rotate(-45)" font-size="8.0" font-weight="bold" text-anchor="end" textLength="22.86" lengthAdjust="spacingAndGlyphs">Day15</text>
<rect x="394.20" y="322.00" width="9.50" height="6.40" fill="#c50019"/>
<text x="406.80" y="327.40" font-size="6.8" textLength="17.00" lengthAdjust="spacingAndGlyphs" stroke="#000" stroke-width="0.28">pp38</text>
<text transform="translate(356.30,364.90) rotate(-90)" font-size="8.8" font-weight="bold" text-anchor="middle" textLength="85.80" lengthAdjust="spacingAndGlyphs">Normalized protein expression</text>
<text transform="translate(368.40,364.45) rotate(-90)" font-size="8.8" font-weight="bold" text-anchor="middle" textLength="55.00" lengthAdjust="spacingAndGlyphs">level (PP38/GAPDH)</text>
<line x1="207.20" y1="464.70" x2="207.20" y2="549.60" stroke="#000" stroke-width="1.45"/>
<line x1="203.90" y1="549.60" x2="338.30" y2="549.60" stroke="#000" stroke-width="1.45"/>
<line x1="203.90" y1="549.60" x2="207.20" y2="549.60" stroke="#000" stroke-width="1.2"/>
<text x="201.20" y="552.20" font-size="7.5" font-weight="bold" text-anchor="end">0.0</text>
<line x1="203.90" y1="521.50" x2="207.20" y2="521.50" stroke="#000" stroke-width="1.2"/>
<text x="201.20" y="524.10" font-size="7.5" font-weight="bold" text-anchor="end">0.5</text>
<line x1="203.90" y1="493.40" x2="207.20" y2="493.40" stroke="#000" stroke-width="1.2"/>
<text x="201.20" y="496.00" font-size="7.5" font-weight="bold" text-anchor="end">1.0</text>
<line x1="203.90" y1="465.30" x2="207.20" y2="465.30" stroke="#000" stroke-width="1.2"/>
<text x="201.20" y="467.90" font-size="7.5" font-weight="bold" text-anchor="end">1.5</text>
<rect x="215.00" y="493.40" width="16.90" height="56.20" fill="#c50019"/>
<line x1="223.45" y1="549.60" x2="223.45" y2="552.90" stroke="#000" stroke-width="1.2"/>
<text transform="translate(225.45,559.80) rotate(-45)" font-size="8.0" font-weight="bold" text-anchor="end" textLength="17.59" lengthAdjust="spacingAndGlyphs">Day7</text>
<line x1="247.40" y1="489.90" x2="247.40" y2="481.30" stroke="#000" stroke-width="1.15"/>
<line x1="243.65" y1="481.30" x2="251.15" y2="481.30" stroke="#000" stroke-width="1.15"/>
<rect x="239.20" y="489.40" width="16.40" height="60.20" fill="#c50019"/>
<line x1="247.40" y1="549.60" x2="247.40" y2="552.90" stroke="#000" stroke-width="1.2"/>
<text transform="translate(249.40,559.80) rotate(-45)" font-size="8.0" font-weight="bold" text-anchor="end" textLength="17.59" lengthAdjust="spacingAndGlyphs">Day9</text>
<line x1="271.25" y1="491.00" x2="271.25" y2="483.20" stroke="#000" stroke-width="1.15"/>
<line x1="267.50" y1="483.20" x2="275.00" y2="483.20" stroke="#000" stroke-width="1.15"/>
<rect x="262.90" y="490.50" width="16.70" height="59.10" fill="#c50019"/>
<line x1="271.25" y1="549.60" x2="271.25" y2="552.90" stroke="#000" stroke-width="1.2"/>
<text transform="translate(273.85,560.00) rotate(-45)" font-size="8.0" font-weight="bold" text-anchor="end" textLength="22.86" lengthAdjust="spacingAndGlyphs">Day11</text>
<line x1="294.65" y1="495.30" x2="294.65" y2="488.30" stroke="#000" stroke-width="1.15"/>
<line x1="290.90" y1="488.30" x2="298.40" y2="488.30" stroke="#000" stroke-width="1.15"/>
<rect x="286.30" y="494.80" width="16.70" height="54.80" fill="#c50019"/>
<line x1="294.65" y1="549.60" x2="294.65" y2="552.90" stroke="#000" stroke-width="1.2"/>
<text transform="translate(297.65,559.80) rotate(-45)" font-size="8.0" font-weight="bold" text-anchor="end" textLength="22.86" lengthAdjust="spacingAndGlyphs">Day13</text>
<line x1="318.35" y1="491.50" x2="318.35" y2="483.20" stroke="#000" stroke-width="1.15"/>
<line x1="314.60" y1="483.20" x2="322.10" y2="483.20" stroke="#000" stroke-width="1.15"/>
<rect x="310.00" y="491.00" width="16.70" height="58.60" fill="#c50019"/>
<line x1="318.35" y1="549.60" x2="318.35" y2="552.90" stroke="#000" stroke-width="1.2"/>
<text transform="translate(321.35,559.80) rotate(-45)" font-size="8.0" font-weight="bold" text-anchor="end" textLength="22.86" lengthAdjust="spacingAndGlyphs">Day15</text>
<rect x="213.90" y="466.30" width="9.00" height="6.30" fill="#c50019"/>
<text x="226.00" y="472.00" font-size="7.4" font-weight="bold" textLength="12.90" lengthAdjust="spacingAndGlyphs">JNK</text>
<text transform="translate(174.20,509.40) rotate(-90)" font-size="8.8" font-weight="bold" text-anchor="middle" textLength="86.40" lengthAdjust="spacingAndGlyphs">Normalized protein expression</text>
<text transform="translate(186.40,509.90) rotate(-90)" font-size="8.8" font-weight="bold" text-anchor="middle" textLength="55.60" lengthAdjust="spacingAndGlyphs">level (JNK/GAPDH)</text>
<line x1="387.85" y1="463.20" x2="387.85" y2="549.00" stroke="#000" stroke-width="1.45"/>
<line x1="384.55" y1="549.00" x2="513.30" y2="549.00" stroke="#000" stroke-width="1.45"/>
<line x1="384.55" y1="549.00" x2="387.85" y2="549.00" stroke="#000" stroke-width="1.2"/>
<text x="381.85" y="551.60" font-size="7.5" font-weight="bold" text-anchor="end">0.0</text>
<line x1="384.55" y1="520.60" x2="387.85" y2="520.60" stroke="#000" stroke-width="1.2"/>
<text x="381.85" y="523.20" font-size="7.5" font-weight="bold" text-anchor="end">0.5</text>
<line x1="384.55" y1="492.20" x2="387.85" y2="492.20" stroke="#000" stroke-width="1.2"/>
<text x="381.85" y="494.80" font-size="7.5" font-weight="bold" text-anchor="end">1.0</text>
<line x1="384.55" y1="463.80" x2="387.85" y2="463.80" stroke="#000" stroke-width="1.2"/>
<text x="381.85" y="466.40" font-size="7.5" font-weight="bold" text-anchor="end">1.5</text>
<rect x="396.20" y="493.70" width="16.60" height="55.30" fill="#c50019"/>
<line x1="404.50" y1="549.00" x2="404.50" y2="552.30" stroke="#000" stroke-width="1.2"/>
<text transform="translate(406.50,559.20) rotate(-45)" font-size="8.0" font-weight="bold" text-anchor="end" textLength="17.59" lengthAdjust="spacingAndGlyphs">Day7</text>
<line x1="428.15" y1="495.30" x2="428.15" y2="487.80" stroke="#000" stroke-width="1.15"/>
<line x1="424.40" y1="487.80" x2="431.90" y2="487.80" stroke="#000" stroke-width="1.15"/>
<rect x="419.80" y="494.80" width="16.70" height="54.20" fill="#c50019"/>
<line x1="428.15" y1="549.00" x2="428.15" y2="552.30" stroke="#000" stroke-width="1.2"/>
<text transform="translate(430.15,559.20) rotate(-45)" font-size="8.0" font-weight="bold" text-anchor="end" textLength="17.59" lengthAdjust="spacingAndGlyphs">Day9</text>
<line x1="452.00" y1="496.60" x2="452.00" y2="489.70" stroke="#000" stroke-width="1.15"/>
<line x1="448.25" y1="489.70" x2="455.75" y2="489.70" stroke="#000" stroke-width="1.15"/>
<rect x="443.80" y="496.10" width="16.40" height="52.90" fill="#c50019"/>
<line x1="452.00" y1="549.00" x2="452.00" y2="552.30" stroke="#000" stroke-width="1.2"/>
<text transform="translate(454.60,559.40) rotate(-45)" font-size="8.0" font-weight="bold" text-anchor="end" textLength="22.86" lengthAdjust="spacingAndGlyphs">Day11</text>
<line x1="475.55" y1="495.80" x2="475.55" y2="488.60" stroke="#000" stroke-width="1.15"/>
<line x1="471.80" y1="488.60" x2="479.30" y2="488.60" stroke="#000" stroke-width="1.15"/>
<rect x="467.20" y="495.30" width="16.70" height="53.70" fill="#c50019"/>
<line x1="475.55" y1="549.00" x2="475.55" y2="552.30" stroke="#000" stroke-width="1.2"/>
<text transform="translate(478.55,559.20) rotate(-45)" font-size="8.0" font-weight="bold" text-anchor="end" textLength="22.86" lengthAdjust="spacingAndGlyphs">Day13</text>
<line x1="499.40" y1="490.20" x2="499.40" y2="480.80" stroke="#000" stroke-width="1.15"/>
<line x1="495.65" y1="480.80" x2="503.15" y2="480.80" stroke="#000" stroke-width="1.15"/>
<rect x="490.90" y="489.70" width="17.00" height="59.30" fill="#c50019"/>
<line x1="499.40" y1="549.00" x2="499.40" y2="552.30" stroke="#000" stroke-width="1.2"/>
<text transform="translate(502.40,559.20) rotate(-45)" font-size="8.0" font-weight="bold" text-anchor="end" textLength="22.86" lengthAdjust="spacingAndGlyphs">Day15</text>
<rect x="394.20" y="462.00" width="9.50" height="6.40" fill="#c50019"/>
<text x="406.60" y="467.20" font-size="7.0" font-weight="bold" textLength="17.30" lengthAdjust="spacingAndGlyphs">pJNK</text>
<text transform="translate(355.40,505.20) rotate(-90)" font-size="8.8" font-weight="bold" text-anchor="middle" textLength="85.80" lengthAdjust="spacingAndGlyphs">Normalized protein expression</text>
<text transform="translate(368.20,506.15) rotate(-90)" font-size="8.8" font-weight="bold" text-anchor="middle" textLength="55.70" lengthAdjust="spacingAndGlyphs">level (pJNK/GAPDH)</text>
<circle cx="265.4" cy="398.7" r="0.7" fill="#500"/>
<circle cx="445.2" cy="398.1" r="0.7" fill="#500"/>
<circle cx="440.2" cy="257.3" r="0.7" fill="#300"/>
<text x="67.20" y="180.85" font-size="7.5" font-weight="bold" text-anchor="middle" textLength="10.10" lengthAdjust="spacingAndGlyphs">D7</text>
<text x="84.40" y="180.85" font-size="7.5" font-weight="bold" text-anchor="middle" textLength="10.10" lengthAdjust="spacingAndGlyphs">D9</text>
<text x="103.25" y="180.85" font-size="7.5" font-weight="bold" text-anchor="middle" textLength="13.80" lengthAdjust="spacingAndGlyphs">D11</text>
<text x="122.10" y="180.85" font-size="7.5" font-weight="bold" text-anchor="middle" textLength="14.30" lengthAdjust="spacingAndGlyphs">D13</text>
<text x="142.60" y="180.85" font-size="7.5" font-weight="bold" text-anchor="middle" textLength="14.30" lengthAdjust="spacingAndGlyphs">D15</text>
<rect x="54.50" y="184.75" width="100.20" height="25.35" fill="#f1f1f1" stroke="#151515" stroke-width="1.15" rx="1.0"/>
<rect x="54.50" y="213.95" width="100.20" height="25.25" fill="#f2f2f2" stroke="#151515" stroke-width="1.15" rx="1.0"/>
<rect x="54.50" y="243.75" width="100.20" height="25.25" fill="#efefef" stroke="#151515" stroke-width="1.15" rx="1.0"/>
<text x="50.40" y="200.60" font-size="7.2" font-weight="bold" text-anchor="end" textLength="32.60" lengthAdjust="spacingAndGlyphs">pERK1/2</text>
<text x="50.60" y="229.40" font-size="7.3" font-weight="bold" text-anchor="end" textLength="28.20" lengthAdjust="spacingAndGlyphs">ERK1/2</text>
<text x="50.20" y="257.90" font-size="7.3" font-weight="bold" text-anchor="end" textLength="26.80" lengthAdjust="spacingAndGlyphs">GAPDH</text>
<path d="M58.70,195.90 C58.70,194.64 59.97,194.50 61.24,194.50 L70.26,194.50 C71.53,194.50 72.80,194.64 72.80,195.90 C72.80,197.16 71.53,197.30 70.26,197.30 L61.24,197.30 C59.97,197.30 58.70,197.16 58.70,195.90Z" fill="#000" opacity="0.24" filter="url(#b9)"/>
<path d="M58.70,200.30 C58.70,198.73 59.97,198.55 61.24,198.55 L70.26,198.55 C71.53,198.55 72.80,198.73 72.80,200.30 C72.80,201.88 71.53,202.05 70.26,202.05 L61.24,202.05 C59.97,202.05 58.70,201.88 58.70,200.30Z" fill="#000" opacity="0.88" filter="url(#b8)"/>
<path d="M77.10,196.10 C77.10,194.84 78.40,194.70 79.69,194.70 L88.91,194.70 C90.20,194.70 91.50,194.84 91.50,196.10 C91.50,197.36 90.20,197.50 88.91,197.50 L79.69,197.50 C78.40,197.50 77.10,197.36 77.10,196.10Z" fill="#000" opacity="0.24" filter="url(#b9)"/>
<path d="M77.10,200.70 C77.10,199.12 78.40,198.95 79.69,198.95 L88.91,198.95 C90.20,198.95 91.50,199.12 91.50,200.70 C91.50,202.27 90.20,202.45 88.91,202.45 L79.69,202.45 C78.40,202.45 77.10,202.27 77.10,200.70Z" fill="#000" opacity="0.84" filter="url(#b8)"/>
<path d="M96.70,195.90 C96.70,194.64 97.92,194.50 99.13,194.50 L107.77,194.50 C108.98,194.50 110.20,194.64 110.20,195.90 C110.20,197.16 108.98,197.30 107.77,197.30 L99.13,197.30 C97.92,197.30 96.70,197.16 96.70,195.90Z" fill="#000" opacity="0.24" filter="url(#b9)"/>
<path d="M96.70,200.30 C96.70,198.73 97.92,198.55 99.13,198.55 L107.77,198.55 C108.98,198.55 110.20,198.73 110.20,200.30 C110.20,201.88 108.98,202.05 107.77,202.05 L99.13,202.05 C97.92,202.05 96.70,201.88 96.70,200.30Z" fill="#000" opacity="0.88" filter="url(#b8)"/>
<path d="M114.20,194.90 C114.20,193.82 115.56,193.70 116.92,193.70 L126.58,193.70 C127.94,193.70 129.30,193.82 129.30,194.90 C129.30,195.98 127.94,196.10 126.58,196.10 L116.92,196.10 C115.56,196.10 114.20,195.98 114.20,194.90Z" fill="#000" opacity="0.42" filter="url(#b9)" transform="rotate(-4 121.75 194.90)"/>
<path d="M114.20,199.20 C114.20,197.58 115.56,197.40 116.92,197.40 L126.58,197.40 C127.94,197.40 129.30,197.58 129.30,199.20 C129.30,200.82 127.94,201.00 126.58,201.00 L116.92,201.00 C115.56,201.00 114.20,200.82 114.20,199.20Z" fill="#000" opacity="1.00" filter="url(#b8)" transform="rotate(-4 121.75 199.20)"/>
<path d="M132.80,192.40 C132.80,191.23 134.22,191.10 135.64,191.10 L145.76,191.10 C147.18,191.10 148.60,191.23 148.60,192.40 C148.60,193.57 147.18,193.70 145.76,193.70 L135.64,193.70 C134.22,193.70 132.80,193.57 132.80,192.40Z" fill="#000" opacity="0.68" filter="url(#b9)" transform="rotate(-1.5 140.70 192.40)"/>
<path d="M132.80,197.10 C132.80,195.30 134.22,195.10 135.64,195.10 L145.76,195.10 C147.18,195.10 148.60,195.30 148.60,197.10 C148.60,198.90 147.18,199.10 145.76,199.10 L135.64,199.10 C134.22,199.10 132.80,198.90 132.80,197.10Z" fill="#000" opacity="1.00" filter="url(#b8)" transform="rotate(-1.5 140.70 197.10)"/>
<path d="M59.20,222.40 C59.20,221.23 60.40,221.10 61.59,221.10 L70.11,221.10 C71.30,221.10 72.50,221.23 72.50,222.40 C72.50,223.57 71.30,223.70 70.11,223.70 L61.59,223.70 C60.40,223.70 59.20,223.57 59.20,222.40Z" fill="#000" opacity="0.18" filter="url(#b9)"/>
<path d="M59.20,227.60 C59.20,226.07 60.40,225.90 61.59,225.90 L70.11,225.90 C71.30,225.90 72.50,226.07 72.50,227.60 C72.50,229.13 71.30,229.30 70.11,229.30 L61.59,229.30 C60.40,229.30 59.20,229.13 59.20,227.60Z" fill="#000" opacity="0.55" filter="url(#b8)"/>
<path d="M77.10,222.40 C77.10,221.23 78.40,221.10 79.69,221.10 L88.91,221.10 C90.20,221.10 91.50,221.23 91.50,222.40 C91.50,223.57 90.20,223.70 88.91,223.70 L79.69,223.70 C78.40,223.70 77.10,223.57 77.10,222.40Z" fill="#000" opacity="0.18" filter="url(#b9)"/>
<path d="M77.10,227.60 C77.10,226.07 78.40,225.90 79.69,225.90 L88.91,225.90 C90.20,225.90 91.50,226.07 91.50,227.60 C91.50,229.13 90.20,229.30 88.91,229.30 L79.69,229.30 C78.40,229.30 77.10,229.13 77.10,227.60Z" fill="#000" opacity="0.55" filter="url(#b8)"/>
<path d="M96.70,222.40 C96.70,221.23 97.92,221.10 99.13,221.10 L107.77,221.10 C108.98,221.10 110.20,221.23 110.20,222.40 C110.20,223.57 108.98,223.70 107.77,223.70 L99.13,223.70 C97.92,223.70 96.70,223.57 96.70,222.40Z" fill="#000" opacity="0.18" filter="url(#b9)"/>
<path d="M96.70,227.60 C96.70,226.07 97.92,225.90 99.13,225.90 L107.77,225.90 C108.98,225.90 110.20,226.07 110.20,227.60 C110.20,229.13 108.98,229.30 107.77,229.30 L99.13,229.30 C97.92,229.30 96.70,229.13 96.70,227.60Z" fill="#000" opacity="0.62" filter="url(#b8)"/>
<path d="M115.60,222.40 C115.60,221.23 116.90,221.10 118.19,221.10 L127.41,221.10 C128.70,221.10 130.00,221.23 130.00,222.40 C130.00,223.57 128.70,223.70 127.41,223.70 L118.19,223.70 C116.90,223.70 115.60,223.57 115.60,222.40Z" fill="#000" opacity="0.32" filter="url(#b9)"/>
<path d="M115.60,227.60 C115.60,226.07 116.90,225.90 118.19,225.90 L127.41,225.90 C128.70,225.90 130.00,226.07 130.00,227.60 C130.00,229.13 128.70,229.30 127.41,229.30 L118.19,229.30 C116.90,229.30 115.60,229.13 115.60,227.60Z" fill="#000" opacity="0.95" filter="url(#b8)"/>
<path d="M134.00,222.40 C134.00,221.23 135.46,221.10 136.92,221.10 L147.28,221.10 C148.74,221.10 150.20,221.23 150.20,222.40 C150.20,223.57 148.74,223.70 147.28,223.70 L136.92,223.70 C135.46,223.70 134.00,223.57 134.00,222.40Z" fill="#000" opacity="0.32" filter="url(#b9)"/>
<path d="M134.00,227.60 C134.00,226.07 135.46,225.90 136.92,225.90 L147.28,225.90 C148.74,225.90 150.20,226.07 150.20,227.60 C150.20,229.13 148.74,229.30 147.28,229.30 L136.92,229.30 C135.46,229.30 134.00,229.13 134.00,227.60Z" fill="#000" opacity="0.95" filter="url(#b8)"/>
<g opacity="1.00" filter="url(#b8)"><ellipse cx="62.73" cy="256.00" rx="4.03" ry="1.90" fill="#000"/><ellipse cx="70.17" cy="256.00" rx="4.03" ry="1.90" fill="#000"/><rect x="61.12" y="254.38" width="10.66" height="3.23" fill="#000"/></g>
<g opacity="1.00" filter="url(#b8)"><ellipse cx="82.33" cy="256.00" rx="4.03" ry="1.90" fill="#000"/><ellipse cx="89.77" cy="256.00" rx="4.03" ry="1.90" fill="#000"/><rect x="80.72" y="254.38" width="10.66" height="3.23" fill="#000"/></g>
<g opacity="1.00" filter="url(#b8)"><ellipse cx="101.83" cy="255.80" rx="3.93" ry="1.90" fill="#000"/><ellipse cx="109.07" cy="255.80" rx="3.93" ry="1.90" fill="#000"/><rect x="100.26" y="254.19" width="10.39" height="3.23" fill="#000"/></g>
<g opacity="1.00" filter="url(#b8)"><ellipse cx="121.20" cy="255.40" rx="3.90" ry="1.90" fill="#000"/><ellipse cx="128.40" cy="255.40" rx="3.90" ry="1.90" fill="#000"/><rect x="119.64" y="253.78" width="10.32" height="3.23" fill="#000"/></g>
<g opacity="1.00" filter="url(#b8)"><ellipse cx="140.65" cy="255.20" rx="3.95" ry="1.90" fill="#000"/><ellipse cx="147.95" cy="255.20" rx="3.95" ry="1.90" fill="#000"/><rect x="139.07" y="253.58" width="10.46" height="3.23" fill="#000"/></g>
<text x="67.10" y="320.00" font-size="7.5" font-weight="bold" text-anchor="middle" textLength="9.30" lengthAdjust="spacingAndGlyphs">D7</text>
<text x="85.80" y="320.00" font-size="7.5" font-weight="bold" text-anchor="middle" textLength="9.30" lengthAdjust="spacingAndGlyphs">D9</text>
<text x="104.15" y="320.00" font-size="7.5" font-weight="bold" text-anchor="middle" textLength="12.20" lengthAdjust="spacingAndGlyphs">D11</text>
<text x="124.10" y="320.00" font-size="7.5" font-weight="bold" text-anchor="middle" textLength="14.50" lengthAdjust="spacingAndGlyphs">D13</text>
<text x="143.00" y="320.00" font-size="7.5" font-weight="bold" text-anchor="middle" textLength="14.70" lengthAdjust="spacingAndGlyphs">D15</text>
<rect x="54.45" y="325.50" width="100.05" height="25.80" fill="#f8f8f8" stroke="#151515" stroke-width="1.15" rx="1.0"/>
<rect x="54.45" y="354.50" width="100.05" height="25.60" fill="#f8f8f8" stroke="#151515" stroke-width="1.15" rx="1.0"/>
<rect x="54.45" y="384.10" width="100.05" height="25.35" fill="#f8f8f8" stroke="#151515" stroke-width="1.15" rx="1.0"/>
<text x="50.20" y="340.00" font-size="7.3" font-weight="bold" text-anchor="end" textLength="18.20" lengthAdjust="spacingAndGlyphs">pp38</text>
<text x="50.20" y="368.80" font-size="7.3" font-weight="bold" text-anchor="end" textLength="13.30" lengthAdjust="spacingAndGlyphs">p38</text>
<text x="49.60" y="397.50" font-size="7.3" font-weight="bold" text-anchor="end" textLength="26.60" lengthAdjust="spacingAndGlyphs">GAPDH</text>
<g opacity="1.00" filter="url(#b8)"><ellipse cx="60.82" cy="342.60" rx="4.52" ry="2.25" fill="#000"/><ellipse cx="69.18" cy="342.60" rx="4.52" ry="2.25" fill="#000"/><rect x="59.01" y="340.80" width="11.97" height="3.60" fill="#000"/></g>
<g opacity="1.00" filter="url(#b8)"><ellipse cx="81.10" cy="342.40" rx="4.00" ry="2.25" fill="#000"/><ellipse cx="88.50" cy="342.40" rx="4.00" ry="2.25" fill="#000"/><rect x="79.50" y="340.60" width="10.60" height="3.60" fill="#000"/></g>
<g opacity="1.00" filter="url(#b8)"><ellipse cx="100.33" cy="342.00" rx="4.13" ry="2.25" fill="#000"/><ellipse cx="107.97" cy="342.00" rx="4.13" ry="2.25" fill="#000"/><rect x="98.68" y="340.20" width="10.94" height="3.60" fill="#000"/></g>
<g opacity="1.00" filter="url(#b8)"><ellipse cx="119.89" cy="341.50" rx="4.29" ry="2.25" fill="#000"/><ellipse cx="127.81" cy="341.50" rx="4.29" ry="2.25" fill="#000"/><rect x="118.17" y="339.70" width="11.35" height="3.60" fill="#000"/></g>
<g opacity="1.00" filter="url(#b8)"><ellipse cx="140.12" cy="341.40" rx="3.82" ry="2.25" fill="#000"/><ellipse cx="147.18" cy="341.40" rx="3.82" ry="2.25" fill="#000"/><rect x="138.59" y="339.60" width="10.11" height="3.60" fill="#000"/></g>
<g opacity="1.00" filter="url(#b8)"><ellipse cx="61.84" cy="368.70" rx="4.34" ry="2.60" fill="#000"/><ellipse cx="69.86" cy="368.70" rx="4.34" ry="2.60" fill="#000"/><rect x="60.11" y="366.67" width="11.49" height="4.06" fill="#000"/></g>
<g opacity="1.00" filter="url(#b8)"><ellipse cx="82.20" cy="368.90" rx="3.90" ry="2.60" fill="#000"/><ellipse cx="89.40" cy="368.90" rx="3.90" ry="2.60" fill="#000"/><rect x="80.64" y="366.87" width="10.32" height="4.06" fill="#000"/></g>
<g opacity="1.00" filter="url(#b8)"><ellipse cx="101.03" cy="369.00" rx="4.03" ry="2.60" fill="#000"/><ellipse cx="108.47" cy="369.00" rx="4.03" ry="2.60" fill="#000"/><rect x="99.42" y="366.97" width="10.66" height="4.06" fill="#000"/></g>
<g opacity="1.00" filter="url(#b8)"><ellipse cx="121.14" cy="369.50" rx="3.74" ry="2.60" fill="#000"/><ellipse cx="128.06" cy="369.50" rx="3.74" ry="2.60" fill="#000"/><rect x="119.65" y="367.47" width="9.91" height="4.06" fill="#000"/></g>
<g opacity="1.00" filter="url(#b8)"><ellipse cx="139.69" cy="370.30" rx="3.69" ry="2.60" fill="#000"/><ellipse cx="146.51" cy="370.30" rx="3.69" ry="2.60" fill="#000"/><rect x="138.22" y="368.27" width="9.77" height="4.06" fill="#000"/></g>
<g opacity="1.00" filter="url(#b8)"><ellipse cx="61.77" cy="395.60" rx="3.77" ry="1.80" fill="#000"/><ellipse cx="68.73" cy="395.60" rx="3.77" ry="1.80" fill="#000"/><rect x="60.26" y="394.05" width="9.98" height="3.10" fill="#000"/></g>
<g opacity="1.00" filter="url(#b8)"><ellipse cx="81.89" cy="395.40" rx="3.59" ry="1.80" fill="#000"/><ellipse cx="88.51" cy="395.40" rx="3.59" ry="1.80" fill="#000"/><rect x="80.45" y="393.85" width="9.49" height="3.10" fill="#000"/></g>
<g opacity="1.00" filter="url(#b8)"><ellipse cx="101.83" cy="394.00" rx="3.93" ry="1.80" fill="#000"/><ellipse cx="109.07" cy="394.00" rx="3.93" ry="1.80" fill="#000"/><rect x="100.26" y="392.45" width="10.39" height="3.10" fill="#000"/></g>
<g opacity="1.00" filter="url(#b8)"><ellipse cx="122.66" cy="393.40" rx="4.06" ry="1.80" fill="#000"/><ellipse cx="130.14" cy="393.40" rx="4.06" ry="1.80" fill="#000"/><rect x="121.03" y="391.85" width="10.73" height="3.10" fill="#000"/></g>
<g opacity="1.00" filter="url(#b8)"><ellipse cx="142.59" cy="394.40" rx="3.59" ry="1.80" fill="#000"/><ellipse cx="149.21" cy="394.40" rx="3.59" ry="1.80" fill="#000"/><rect x="141.15" y="392.85" width="9.49" height="3.10" fill="#000"/></g>
<text x="69.10" y="460.00" font-size="7.5" font-weight="bold" text-anchor="middle" textLength="9.30" lengthAdjust="spacingAndGlyphs">D7</text>
<text x="87.80" y="460.00" font-size="7.5" font-weight="bold" text-anchor="middle" textLength="9.30" lengthAdjust="spacingAndGlyphs">D9</text>
<text x="106.15" y="460.00" font-size="7.5" font-weight="bold" text-anchor="middle" textLength="12.20" lengthAdjust="spacingAndGlyphs">D11</text>
<text x="126.10" y="460.00" font-size="7.5" font-weight="bold" text-anchor="middle" textLength="14.50" lengthAdjust="spacingAndGlyphs">D13</text>
<text x="145.00" y="460.00" font-size="7.5" font-weight="bold" text-anchor="middle" textLength="14.70" lengthAdjust="spacingAndGlyphs">D15</text>
<rect x="54.50" y="464.80" width="100.30" height="25.40" fill="#f8f8f8" stroke="#151515" stroke-width="1.15" rx="1.0"/>
<rect x="54.50" y="494.40" width="100.30" height="25.80" fill="#f8f8f8" stroke="#151515" stroke-width="1.15" rx="1.0"/>
<rect x="54.50" y="523.70" width="100.30" height="25.70" fill="#f8f8f8" stroke="#151515" stroke-width="1.15" rx="1.0"/>
<text x="50.80" y="479.50" font-size="7.3" font-weight="bold" text-anchor="end" textLength="18.40" lengthAdjust="spacingAndGlyphs">pJNK</text>
<text x="50.80" y="507.90" font-size="7.3" font-weight="bold" text-anchor="end" textLength="13.90" lengthAdjust="spacingAndGlyphs">JNK</text>
<text x="49.60" y="536.70" font-size="7.3" font-weight="bold" text-anchor="end" textLength="26.60" lengthAdjust="spacingAndGlyphs">GAPDH</text>
<path d="M61.00,474.90 C61.00,473.55 62.50,473.40 64.01,473.40 L74.69,473.40 C76.20,473.40 77.70,473.55 77.70,474.90 C77.70,476.25 76.20,476.40 74.69,476.40 L64.01,476.40 C62.50,476.40 61.00,476.25 61.00,474.90Z" fill="#000" opacity="0.45" filter="url(#b9)"/>
<path d="M81.20,474.90 C81.20,473.55 82.50,473.40 83.79,473.40 L93.01,473.40 C94.30,473.40 95.60,473.55 95.60,474.90 C95.60,476.25 94.30,476.40 93.01,476.40 L83.79,476.40 C82.50,476.40 81.20,476.25 81.20,474.90Z" fill="#000" opacity="0.45" filter="url(#b9)"/>
<path d="M101.20,474.90 C101.20,473.55 102.44,473.40 103.68,473.40 L112.52,473.40 C113.76,473.40 115.00,473.55 115.00,474.90 C115.00,476.25 113.76,476.40 112.52,476.40 L103.68,476.40 C102.44,476.40 101.20,476.25 101.20,474.90Z" fill="#000" opacity="0.45" filter="url(#b9)"/>
<path d="M119.00,474.90 C119.00,473.55 120.35,473.40 121.70,473.40 L131.30,473.40 C132.65,473.40 134.00,473.55 134.00,474.90 C134.00,476.25 132.65,476.40 131.30,476.40 L121.70,476.40 C120.35,476.40 119.00,476.25 119.00,474.90Z" fill="#000" opacity="0.45" filter="url(#b9)"/>
<path d="M137.00,474.90 C137.00,473.55 138.35,473.40 139.70,473.40 L149.30,473.40 C150.65,473.40 152.00,473.55 152.00,474.90 C152.00,476.25 150.65,476.40 149.30,476.40 L139.70,476.40 C138.35,476.40 137.00,476.25 137.00,474.90Z" fill="#000" opacity="0.45" filter="url(#b9)"/>
<g opacity="0.95" filter="url(#b8)"><ellipse cx="64.61" cy="484.60" rx="4.81" ry="2.00" fill="#000"/><ellipse cx="73.49" cy="484.60" rx="4.81" ry="2.00" fill="#000"/><rect x="62.69" y="483.04" width="12.73" height="3.12" fill="#000"/></g>
<g opacity="0.95" filter="url(#b8)"><ellipse cx="84.94" cy="484.60" rx="3.74" ry="2.00" fill="#000"/><ellipse cx="91.86" cy="484.60" rx="3.74" ry="2.00" fill="#000"/><rect x="83.45" y="483.04" width="9.91" height="3.12" fill="#000"/></g>
<g opacity="0.95" filter="url(#b8)"><ellipse cx="104.34" cy="484.60" rx="3.74" ry="2.00" fill="#000"/><ellipse cx="111.26" cy="484.60" rx="3.74" ry="2.00" fill="#000"/><rect x="102.85" y="483.04" width="9.91" height="3.12" fill="#000"/></g>
<g opacity="0.95" filter="url(#b8)"><ellipse cx="122.40" cy="484.60" rx="3.90" ry="2.00" fill="#000"/><ellipse cx="129.60" cy="484.60" rx="3.90" ry="2.00" fill="#000"/><rect x="120.84" y="483.04" width="10.32" height="3.12" fill="#000"/></g>
<g opacity="0.95" filter="url(#b8)"><ellipse cx="140.90" cy="484.60" rx="3.90" ry="2.00" fill="#000"/><ellipse cx="148.10" cy="484.60" rx="3.90" ry="2.00" fill="#000"/><rect x="139.34" y="483.04" width="10.32" height="3.12" fill="#000"/></g>
<path d="M59.20,505.00 C59.20,503.65 60.71,503.50 62.22,503.50 L72.98,503.50 C74.49,503.50 76.00,503.65 76.00,505.00 C76.00,506.35 74.49,506.50 72.98,506.50 L62.22,506.50 C60.71,506.50 59.20,506.35 59.20,505.00Z" fill="#000" opacity="0.50" filter="url(#b8)"/>
<g opacity="1.00" filter="url(#b8)"><ellipse cx="63.57" cy="511.60" rx="4.37" ry="1.95" fill="#000"/><ellipse cx="71.63" cy="511.60" rx="4.37" ry="1.95" fill="#000"/><rect x="61.82" y="510.00" width="11.56" height="3.20" fill="#000"/></g>
<path d="M80.60,505.00 C80.60,503.65 81.95,503.50 83.30,503.50 L92.90,503.50 C94.25,503.50 95.60,503.65 95.60,505.00 C95.60,506.35 94.25,506.50 92.90,506.50 L83.30,506.50 C81.95,506.50 80.60,506.35 80.60,505.00Z" fill="#000" opacity="0.50" filter="url(#b8)"/>
<g opacity="1.00" filter="url(#b8)"><ellipse cx="84.50" cy="511.60" rx="3.90" ry="1.95" fill="#000"/><ellipse cx="91.70" cy="511.60" rx="3.90" ry="1.95" fill="#000"/><rect x="82.94" y="510.00" width="10.32" height="3.20" fill="#000"/></g>
<path d="M99.50,505.00 C99.50,503.65 100.89,503.50 102.29,503.50 L112.21,503.50 C113.61,503.50 115.00,503.65 115.00,505.00 C115.00,506.35 113.61,506.50 112.21,506.50 L102.29,506.50 C100.89,506.50 99.50,506.35 99.50,505.00Z" fill="#000" opacity="0.50" filter="url(#b8)"/>
<g opacity="1.00" filter="url(#b8)"><ellipse cx="103.53" cy="511.60" rx="4.03" ry="1.95" fill="#000"/><ellipse cx="110.97" cy="511.60" rx="4.03" ry="1.95" fill="#000"/><rect x="101.92" y="510.00" width="10.66" height="3.20" fill="#000"/></g>
<path d="M119.20,505.00 C119.20,503.65 120.60,503.50 122.01,503.50 L131.99,503.50 C133.40,503.50 134.80,503.65 134.80,505.00 C134.80,506.35 133.40,506.50 131.99,506.50 L122.01,506.50 C120.60,506.50 119.20,506.35 119.20,505.00Z" fill="#000" opacity="0.50" filter="url(#b8)"/>
<g opacity="1.00" filter="url(#b8)"><ellipse cx="123.26" cy="511.50" rx="4.06" ry="1.95" fill="#000"/><ellipse cx="130.74" cy="511.50" rx="4.06" ry="1.95" fill="#000"/><rect x="121.63" y="509.90" width="10.73" height="3.20" fill="#000"/></g>
<path d="M138.40,504.10 C138.40,502.75 139.71,502.60 141.03,502.60 L150.37,502.60 C151.69,502.60 153.00,502.75 153.00,504.10 C153.00,505.45 151.69,505.60 150.37,505.60 L141.03,505.60 C139.71,505.60 138.40,505.45 138.40,504.10Z" fill="#000" opacity="0.50" filter="url(#b8)"/>
<g opacity="1.00" filter="url(#b8)"><ellipse cx="142.20" cy="510.40" rx="3.80" ry="1.95" fill="#000"/><ellipse cx="149.20" cy="510.40" rx="3.80" ry="1.95" fill="#000"/><rect x="140.68" y="508.80" width="10.04" height="3.20" fill="#000"/></g>
<g opacity="0.82" filter="url(#b9)"><ellipse cx="64.59" cy="537.30" rx="3.59" ry="2.15" fill="#000"/><ellipse cx="71.21" cy="537.30" rx="3.59" ry="2.15" fill="#000"/><rect x="63.15" y="535.47" width="9.49" height="3.65" fill="#000"/></g>
<g opacity="0.82" filter="url(#b9)"><ellipse cx="83.14" cy="537.30" rx="3.74" ry="2.15" fill="#000"/><ellipse cx="90.06" cy="537.30" rx="3.74" ry="2.15" fill="#000"/><rect x="81.65" y="535.47" width="9.91" height="3.65" fill="#000"/></g>
<g opacity="0.82" filter="url(#b9)"><ellipse cx="102.77" cy="537.20" rx="3.77" ry="2.15" fill="#000"/><ellipse cx="109.73" cy="537.20" rx="3.77" ry="2.15" fill="#000"/><rect x="101.26" y="535.37" width="9.98" height="3.65" fill="#000"/></g>
<g opacity="0.82" filter="url(#b9)"><ellipse cx="121.74" cy="537.10" rx="3.74" ry="2.15" fill="#000"/><ellipse cx="128.66" cy="537.10" rx="3.74" ry="2.15" fill="#000"/><rect x="120.25" y="535.27" width="9.91" height="3.65" fill="#000"/></g>
<g opacity="0.82" filter="url(#b9)"><ellipse cx="141.10" cy="537.30" rx="3.90" ry="2.15" fill="#000"/><ellipse cx="148.30" cy="537.30" rx="3.90" ry="2.15" fill="#000"/><rect x="139.54" y="535.47" width="10.32" height="3.65" fill="#000"/></g>
</svg></div></body></html>
